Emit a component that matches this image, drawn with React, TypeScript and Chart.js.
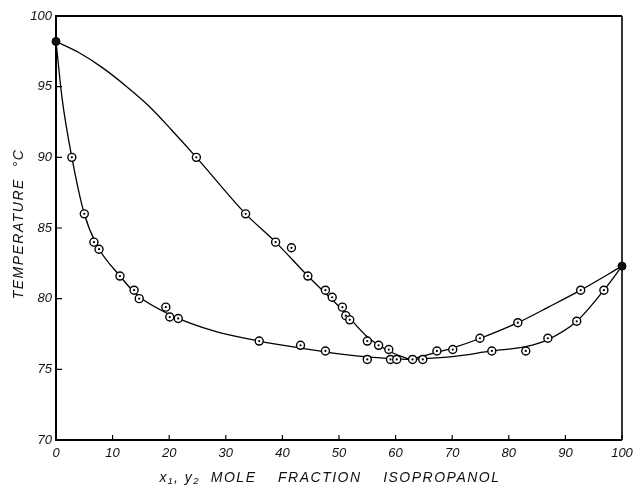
import React, { useEffect, useRef } from "react";
import { Chart, registerables } from "chart.js";

Chart.register(...registerables);

// Axis ticks
const xTicks = [0, 10, 20, 30, 40, 50, 60, 70, 80, 90, 100];
const yTicks = [70, 75, 80, 85, 90, 95, 100];

// Drawn curves
const vaporLeftCurveX = [0, 4.1, 8.0, 12.5, 16.5, 20.5, 24.8, 33.5, 38.8, 44.5, 50.6, 55.0, 58.8, 62.5];
const vaporLeftCurveT = [98.2, 97.4, 96.4, 95.0, 93.6, 91.9, 90.0, 86.0, 84.0, 81.6, 79.2, 77.3, 76.3, 75.7];
const liquidLeftCurveX = [0, 1.1, 2.8, 5.0, 7.2, 11.3, 14.5, 20.5, 28.0, 35.9, 43.2, 50.0, 56.0, 62.5];
const liquidLeftCurveT = [98.2, 94.1, 90.0, 86.0, 83.8, 81.6, 80.2, 78.8, 77.7, 77.0, 76.5, 76.1, 75.85, 75.7];
const vaporRightCurveX = [62.5, 67.3, 70.0, 75.0, 81.6, 87.0, 92.7, 100];
const vaporRightCurveT = [75.7, 76.2, 76.5, 77.2, 78.3, 79.4, 80.6, 82.3];
const liquidRightCurveX = [62.5, 70.0, 77.0, 83.0, 86.9, 92.0, 96.8, 100];
const liquidRightCurveT = [75.7, 75.9, 76.3, 76.6, 77.1, 78.4, 80.6, 82.3];

// Measured points
const vaporPtsX = [24.8, 33.5, 38.8, 41.6, 44.5, 47.6, 48.8, 50.6, 51.2, 51.9, 55.0, 57.0, 58.8, 67.3, 70.1, 74.9, 81.6, 92.7];
const vaporPtsT = [90.0, 86.0, 84.0, 83.6, 81.6, 80.6, 80.1, 79.4, 78.8, 78.5, 77.0, 76.7, 76.4, 76.3, 76.4, 77.2, 78.3, 80.6];
const liquidPtsX = [2.8, 5.0, 6.7, 7.6, 11.3, 13.8, 14.7, 19.4, 20.1, 21.6, 35.9, 43.2, 47.6, 55.0, 59.1, 60.2, 63.0, 64.8, 77.0, 83.0, 86.9, 92.0, 96.8];
const liquidPtsT = [90.0, 86.0, 84.0, 83.5, 81.6, 80.6, 80.0, 79.4, 78.7, 78.6, 77.0, 76.7, 76.3, 75.7, 75.7, 75.7, 75.7, 75.7, 76.3, 76.3, 77.2, 78.4, 80.6];
const pureX = [0, 100];
const pureT = [98.2, 82.3];

const xTitle = "x\u2081, y\u2082  MOLE    FRACTION    ISOPROPANOL";
const yTitle = "TEMPERATURE  \u00B0C";

const zip = (xs: number[], ys: number[]) => xs.map((x, i) => ({ x, y: ys[i] }));

const framePlugin = {
  id: "frame",
  beforeDatasetsDraw(chart: any) {
    const { ctx, chartArea, scales } = chart;
    const { left, right, top, bottom } = chartArea;
    ctx.save();
    ctx.strokeStyle = "#000";
    ctx.lineWidth = 2;
    ctx.beginPath();
    ctx.moveTo(right, top);
    ctx.lineTo(left, top);
    ctx.lineTo(left, bottom);
    ctx.lineTo(right, bottom);
    ctx.stroke();
    ctx.lineWidth = 1.6;
    ctx.beginPath();
    ctx.moveTo(right, top);
    ctx.lineTo(right, bottom);
    ctx.stroke();
    ctx.lineWidth = 1.2;
    ctx.beginPath();
    xTicks.forEach((v) => {
      const px = scales.x.getPixelForValue(v);
      ctx.moveTo(px, bottom);
      ctx.lineTo(px, bottom - 5);
    });
    yTicks.forEach((v) => {
      const py = scales.y.getPixelForValue(v);
      ctx.moveTo(left, py);
      ctx.lineTo(left + 6, py);
    });
    ctx.stroke();
    ctx.restore();
  },
  afterDraw(chart: any) {
    const { ctx } = chart;
    ctx.save();
    ctx.fillStyle = "#111";
    ctx.font = 'italic 14px "Liberation Sans", Arial, sans-serif';
    try { (ctx as any).letterSpacing = "1.5px"; } catch (e) {}
    ctx.textAlign = "center";
    ctx.textBaseline = "middle";
    ctx.fillText(xTitle, 330, 478);
    ctx.translate(19, 224);
    ctx.rotate(-Math.PI / 2);
    ctx.fillText(yTitle, 0, 0);
    ctx.restore();
  },
};

export default function App() {
  const ref = useRef<HTMLCanvasElement | null>(null);
  useEffect(() => {
    if (!ref.current) return;
    const lineStyle = {
      type: "line" as const,
      showLine: true,
      borderColor: "#000",
      borderWidth: 1.3,
      pointRadius: 0,
      pointHoverRadius: 0,
      fill: false,
      cubicInterpolationMode: "monotone" as const,
      clip: false as any,
    };
    const tickFont = { family: '"Liberation Sans", Arial, sans-serif', size: 13, style: "italic" as const };
    const chart = new Chart(ref.current, {
      type: "scatter",
      data: {
        datasets: [
          {
            label: "pure",
            data: zip(pureX, pureT),
            pointRadius: 4,
            pointBackgroundColor: "#111",
            pointBorderColor: "#000",
            pointBorderWidth: 1,
            showLine: false,
            clip: false as any,
          },
          {
            label: "dots",
            data: [...zip(vaporPtsX, vaporPtsT), ...zip(liquidPtsX, liquidPtsT)],
            pointRadius: 1.1,
            pointBackgroundColor: "#000",
            pointBorderWidth: 0,
            showLine: false,
            clip: false as any,
          },
          {
            label: "vapor points",
            data: zip(vaporPtsX, vaporPtsT),
            pointRadius: 4,
            pointBackgroundColor: "#fff",
            pointBorderColor: "#000",
            pointBorderWidth: 1.4,
            showLine: false,
            clip: false as any,
          },
          {
            label: "liquid points",
            data: zip(liquidPtsX, liquidPtsT),
            pointRadius: 4,
            pointBackgroundColor: "#fff",
            pointBorderColor: "#000",
            pointBorderWidth: 1.4,
            showLine: false,
            clip: false as any,
          },
          { label: "vl", data: zip(vaporLeftCurveX, vaporLeftCurveT), ...lineStyle } as any,
          { label: "ll", data: zip(liquidLeftCurveX, liquidLeftCurveT), ...lineStyle } as any,
          { label: "vr", data: zip(vaporRightCurveX, vaporRightCurveT), ...lineStyle } as any,
          { label: "lr", data: zip(liquidRightCurveX, liquidRightCurveT), ...lineStyle } as any,
        ],
      },
      options: {
        animation: false,
        responsive: false,
        maintainAspectRatio: false,
        layout: { padding: { left: 0, right: 11, top: 16, bottom: 0 } },
        plugins: { legend: { display: false }, tooltip: { enabled: false }, title: { display: false } },
        events: [],
        scales: {
          x: {
            type: "linear",
            min: 0,
            max: 100,
            afterBuildTicks: (s: any) => {
              s.ticks = xTicks.map((v) => ({ value: v }));
            },
            afterFit: (s: any) => {
              s.height = 53;
              s.paddingLeft = 0;
              s.paddingRight = 0;
            },
            grid: { display: false, drawTicks: false },
            border: { display: false },
            ticks: { padding: 6, font: tickFont, color: "#111", maxRotation: 0, autoSkip: false },
          },
          y: {
            type: "linear",
            min: 70,
            max: 100,
            afterBuildTicks: (s: any) => {
              s.ticks = yTicks.map((v) => ({ value: v }));
            },
            afterFit: (s: any) => {
              s.width = 56;
              s.paddingTop = 0;
              s.paddingBottom = 0;
            },
            grid: { display: false, drawTicks: false },
            border: { display: false },
            ticks: { padding: 4, font: tickFont, color: "#111", autoSkip: false },
          },
        },
      },
      plugins: [framePlugin],
    } as any);
    return () => chart.destroy();
  }, []);
  return (
    <div style={{ position: "fixed", left: 0, top: 0, width: 633, height: 493, background: "#fff" }}>
      <canvas ref={ref} width={633} height={493} style={{ display: "block", width: 633, height: 493 }} />
    </div>
  );
}
